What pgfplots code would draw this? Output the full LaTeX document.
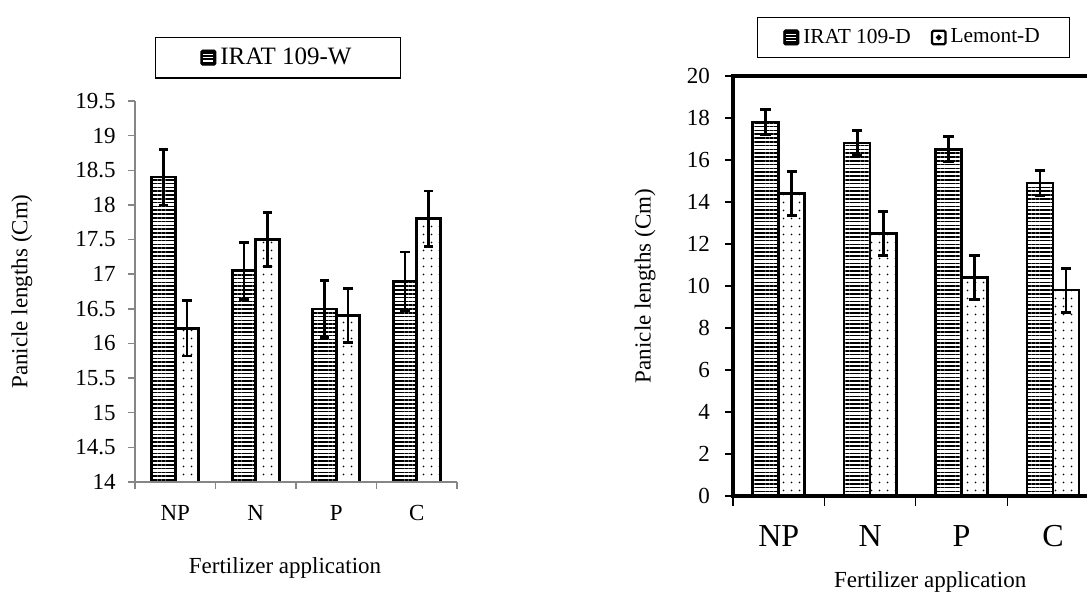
\documentclass[border=0pt]{standalone}
\usepackage{fontspec}
\setmainfont{Liberation Serif}
\usepackage{pgfplots}
\usepackage{pgfplotstable}
\pgfplotsset{compat=1.18}
\usetikzlibrary{patterns.meta}

\pgfplotstableread{
x irat irate lem leme
1 18.40 0.40 16.22 0.40
2 17.05 0.41 17.50 0.39
3 16.50 0.41 16.40 0.39
4 16.90 0.42 17.80 0.40
}\leftdata

\pgfplotstableread{
x irat irate lem leme
1 17.8 0.6 14.4 1.05
2 16.8 0.6 12.5 1.05
3 16.5 0.6 10.4 1.05
4 14.9 0.6 9.8 1.05
}\rightdata

\definecolor{axgray}{RGB}{134,134,134}

\tikzset{
  hlines/.style={draw=black, line width=1.3pt, pattern={Lines[angle=0,distance=1.9pt,line width=0.8pt]}},
  dotbar/.style={draw=black, line width=1.3pt, pattern={Dots[distance=4pt,radius=0.5pt]}},
}
\pgfplotsset{
  ebars/.style={error bars/.cd, y dir=both, y explicit,
    error bar style={line width=1.4pt, black},
    error mark options={rotate=90, mark size=#1, line width=1.4pt, black},
    /pgfplots/.cd},
  hicon/.style={legend image code/.code={
    \draw[black, fill=black, rounded corners=0.8pt, line width=0.4pt] (0pt,-3.8pt) rectangle (7.6pt,3.8pt);
    \draw[white, line width=0.55pt] (1.3pt,-1.7pt)--(6.3pt,-1.7pt) (1.3pt,0pt)--(6.3pt,0pt) (1.3pt,1.7pt)--(6.3pt,1.7pt);}},
  dicon/.style={legend image code/.code={
    \draw[black, fill=white, rounded corners=0.8pt, line width=1.1pt] (0.4pt,-3.4pt) rectangle (7.2pt,3.4pt);
    \fill[black] (3.8pt,0pt) circle (0.6pt);}},
}

\newcommand{\fs}[1]{\fontsize{#1}{#1}\selectfont}

\begin{document}
\begin{tikzpicture}
\path[use as bounding box] (0,0) rectangle (543.5pt,297pt);

% ---------------- left panel ----------------
\begin{axis}[
  at={(67.5pt,56pt)}, anchor=south west,
  scale only axis, width=161pt, height=190.5pt,
  xmin=0.5, xmax=4.5, ymin=14, ymax=19.5,
  axis x line*=bottom, axis y line*=left,
  axis line style={axgray, line width=0.7pt},
  xtick={1,2,3,4}, xticklabels={NP,N,P,C},
  minor xtick={0.5,1.5,2.5,3.5,4.5},
  major x tick style={draw=none},
  minor x tick style={axgray, line width=0.7pt},
  ytick={14,14.5,...,19.5},
  y tick style={axgray, line width=0.7pt},
  tick align=outside, major tick length=3.5pt, minor tick length=3.5pt,
  /pgf/number format/assume math mode=true,
  tick label style={font=\fs{11.5}, black},
  xticklabel style={anchor=center, yshift=-12pt},
  yticklabel style={xshift=-2.7pt},
  xlabel={Fertilizer application},
  ylabel={Panicle lengths (Cm)},
  label style={font=\fs{11.5}},
  xlabel style={at={(axis description cs:0.466,-0.2257)}, anchor=center},
  ylabel style={at={(axis description cs:-0.351,0.5)}, anchor=center},
  axis on top,
  legend style={at={(axis description cs:0.444,1.114)}, anchor=center,
    draw=black, line width=0.6pt, font=\fs{12.5}, inner xsep=22.5pt, inner ysep=3.3pt},
]
\addplot[ybar, bar width=0.292, bar shift=0pt, hlines, hicon, ebars=2.3pt]
  table[x expr=\thisrow{x}-0.146, y=irat, y error=irate]{\leftdata};
\addlegendentry{IRAT 109-W}
\addplot[forget plot, ybar, bar width=0.292, bar shift=0pt, dotbar, ebars=2.3pt]
  table[x expr=\thisrow{x}+0.146, y=lem, y error=leme]{\leftdata};
\end{axis}

% ---------------- right panel ----------------
\begin{axis}[
  at={(366.5pt,49pt)}, anchor=south west,
  scale only axis, width=182.85pt, height=210pt,
  xmin=0.5, xmax=4.5, ymin=0, ymax=20,
  axis line style={black, line width=2pt},
  tick pos=left,
  xtick={1,2,3,4}, xticklabels={NP,N,P,C},
  minor xtick={0.5,1.5,2.5,3.5,4.5},
  major x tick style={draw=none},
  minor x tick style={black, line width=0.6pt},
  ytick={0,2,...,20},
  y tick style={black, line width=0.6pt},
  tick align=outside, major tick length=4pt, minor tick length=5pt,
  /pgf/number format/assume math mode=true,
  tick label style={black},
  yticklabel style={font=\fs{11.5}, xshift=-4pt},
  xticklabel style={font=\fs{16}, anchor=center, yshift=-16pt},
  xlabel={Fertilizer application},
  ylabel={Panicle lengths (Cm)},
  label style={font=\fs{11.5}},
  xlabel style={at={(axis description cs:0.539,-0.2048)}, anchor=center},
  ylabel style={at={(axis description cs:-0.2406,0.5)}, anchor=center},
  axis on top,
  legend columns=2,
  legend style={at={(axis description cs:0.4936,1.0917)}, anchor=center,
    draw=black, line width=0.6pt, font=\fs{10.7}, inner xsep=13pt, inner ysep=3.7pt,
    /tikz/every even column/.append style={column sep=8pt}},
]
\addplot[ybar, bar width=0.285, bar shift=0pt, hlines, hicon, ebars=2.6pt]
  table[x expr=\thisrow{x}-0.1425, y=irat, y error=irate]{\rightdata};
\addlegendentry{IRAT 109-D}
\addplot[ybar, bar width=0.285, bar shift=0pt, dotbar, dicon, ebars=2.6pt]
  table[x expr=\thisrow{x}+0.1425, y=lem, y error=leme]{\rightdata};
\addlegendentry{Lemont-D}
\end{axis}
\end{tikzpicture}
\end{document}
